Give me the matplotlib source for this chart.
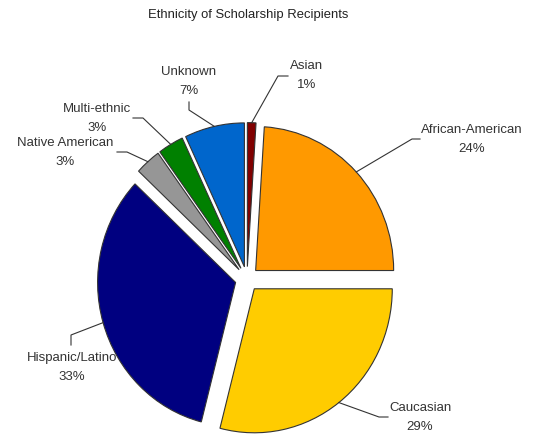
import numpy as np
import matplotlib
matplotlib.use("Agg")
import matplotlib.pyplot as plt

plt.rcParams["font.family"] = ["Liberation Sans", "DejaVu Sans"]

labels = ["Asian", "African-American", "Caucasian", "Hispanic/Latino",
          "Native American", "Multi-ethnic", "Unknown"]
shares = [1, 24, 29, 33, 3, 3, 7]
colors = ["#800000", "#FF9900", "#FFCC00", "#000080",
          "#969696", "#008000", "#0066CC"]

# label centre (x, y of first line) and leader elbow / end, in image pixels
text_pos = [(307, 66), (472, 130), (420, 408), (72, 358),
            (65, 143), (97, 109), (189, 72)]
elbow_pos = [(278, 76), (412, 139), (379, 417), (71, 335),
             (127, 152), (143, 118), (189, 110)]
end_pos = [(288, 76), (420, 139), (388, 417), (71, 345),
           (117, 152), (133, 118), (189, 102)]

W, H = 536, 436
cx, cy = 247, 279      # pie centre, image pixels
rx, ry = 138, 144      # radius in pixels

fig = plt.figure(figsize=(W / 100, H / 100), dpi=100)
ax = fig.add_axes([0, 0, 1, 1])

wedges, _ = ax.pie(shares, colors=colors, startangle=90, counterclock=False,
                   explode=[0.086] * len(shares),
                   wedgeprops=dict(edgecolor="#333333", linewidth=0.8))
ax.set_aspect("auto")
ax.set_xlim(-cx / rx, (W - cx) / rx)
ax.set_ylim(-(H - cy) / ry, cy / ry)
ax.axis("off")

tr = ax.transData.inverted()


def to_data(p):
    return tr.transform((p[0], H - p[1]))


for w, lab, val, tp, ep, np_ in zip(wedges, labels, shares, text_pos, elbow_pos, end_pos):
    ang = np.deg2rad((w.theta1 + w.theta2) / 2)
    cxw, cyw = w.center
    start = (cxw + np.cos(ang) * w.r, cyw + np.sin(ang) * w.r)
    e = to_data(ep)
    n = to_data(np_)
    ax.plot([start[0], e[0], n[0]], [start[1], e[1], n[1]],
            color="#333333", linewidth=0.8)
    t1 = to_data(tp)
    t2 = to_data((tp[0], tp[1] + 18.5))
    ax.text(t1[0], t1[1], lab, ha="center", va="center", fontsize=9.5, color="#333333")
    ax.text(t2[0], t2[1], f"{val}%", ha="center", va="center", fontsize=9.5, color="#333333")

fig.text(248 / W, 1 - 15 / H, "Ethnicity of Scholarship Recipients",
         ha="center", va="center", fontsize=9.4, color="#222222")

fig.savefig("out.png", dpi=100)
